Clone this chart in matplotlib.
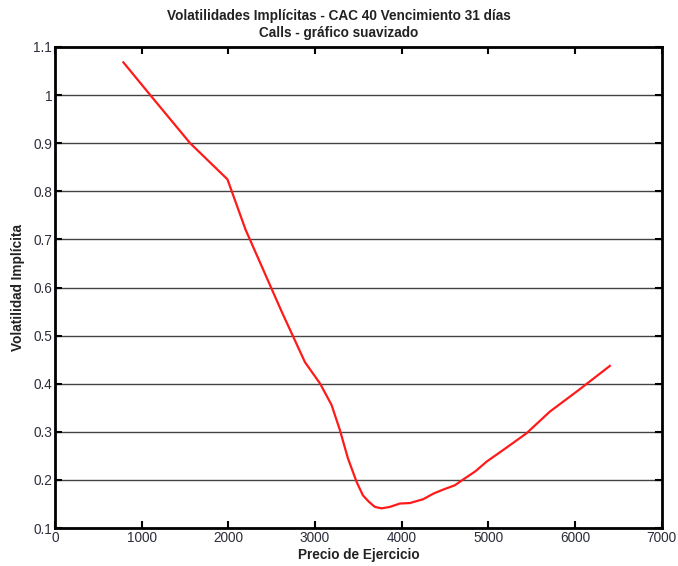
import matplotlib
matplotlib.use('Agg')
from matplotlib import pyplot as plt

plt.rcParams['font.family'] = ['Liberation Sans', 'DejaVu Sans']

# strike price vs. smoothed implied volatility (calls)
strike = [790, 1100, 1560, 1990, 2200, 2420, 2618, 2884, 3060, 3191, 3287,
          3380, 3480, 3553, 3620, 3691, 3768, 3864, 3979, 4095, 4248, 4370,
          4479, 4614, 4710, 4850, 4979, 5200, 5440, 5709, 6050, 6401]
vol = [1.068, 1.0, 0.90, 0.825, 0.72, 0.63, 0.549, 0.445, 0.40, 0.356, 0.304,
       0.245, 0.196, 0.168, 0.155, 0.144, 0.141, 0.144, 0.151, 0.152, 0.160,
       0.172, 0.180, 0.189, 0.201, 0.218, 0.238, 0.266, 0.297, 0.342, 0.388, 0.437]

xticks = [0, 1000, 2000, 3000, 4000, 5000, 6000, 7000]
yticks = [0.1, 0.2, 0.3, 0.4, 0.5, 0.6, 0.7, 0.8, 0.9, 1.0, 1.1]
ylabels = ['0.1', '0.2', '0.3', '0.4', '0.5', '0.6', '0.7', '0.8', '0.9', '1', '1.1']

fig = plt.figure(figsize=(6.78, 5.66), dpi=100)
ax = fig.add_axes([0.081, 0.067, 0.895, 0.85])

ax.plot(strike, vol, color='#ff1a1a', lw=1.6, zorder=3)

ax.set_xlim(0, 7000)
ax.set_ylim(0.1, 1.1)
ax.set_xticks(xticks)
ax.set_xticklabels([str(t) for t in xticks])
ax.set_yticks(yticks)
ax.set_yticklabels(ylabels)
ax.grid(True, axis='y', color='#444444', lw=1.0)
ax.tick_params(direction='in', top=True, right=True, length=5, width=1.5,
               pad=2, labelsize=9.8, labelcolor='#2b2d3a')
for s in ax.spines.values():
    s.set_linewidth(2)

ax.set_xlabel('Precio de Ejercicio', fontsize=9.8, fontweight='bold',
              color='#222222', labelpad=2)
ax.set_ylabel('Volatilidad Implícita', fontsize=9.8, fontweight='bold',
              color='#222222', labelpad=6)
fig.text(0.5, 0.972, 'Volatilidades Implícitas - CAC 40 Vencimiento 31 días',
         ha='center', va='center', fontsize=9.8, fontweight='bold', color='#222222')
fig.text(0.5, 0.942, 'Calls - gráfico suavizado',
         ha='center', va='center', fontsize=9.8, fontweight='bold', color='#222222')

fig.savefig('out.png', dpi=100)
